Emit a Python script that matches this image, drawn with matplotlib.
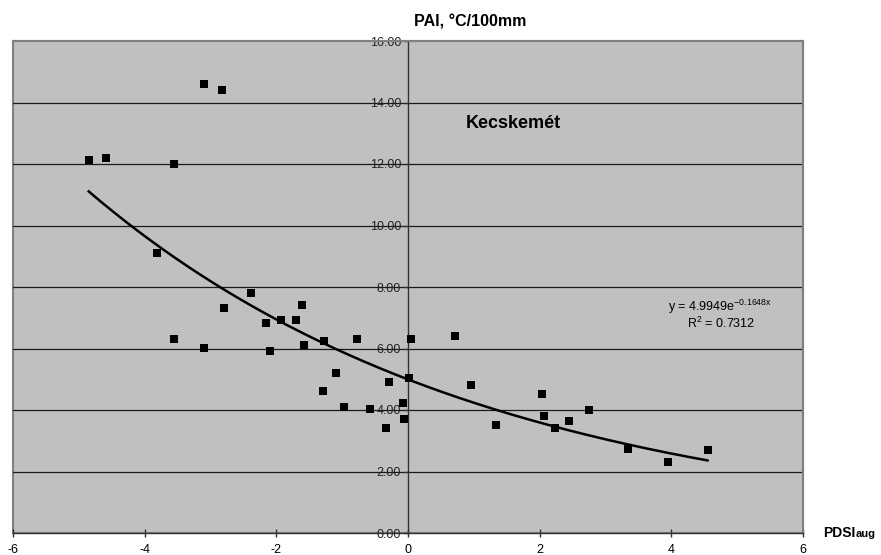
import numpy as np
import matplotlib
matplotlib.use('Agg')
import matplotlib.pyplot as plt
from matplotlib.patches import Rectangle

plt.rcParams['font.family'] = 'Liberation Sans'
plt.rcParams['mathtext.fontset'] = 'custom'
plt.rcParams['mathtext.rm'] = 'Liberation Sans'
plt.rcParams['mathtext.it'] = 'Liberation Sans:italic'
plt.rcParams['mathtext.bf'] = 'Liberation Sans:bold'

# PDSI (augusztus) es PAI ertekek, Kecskemet
pdsi = [-4.85, -4.59, -3.56, -3.10, -2.82, -3.82, -3.56, -3.10, -2.80, -2.38,
        -2.15, -2.10, -1.93, -1.70, -1.61, -1.58, -1.28, -1.29, -1.09, -0.97,
        -0.77, -0.58, -0.33, -0.29, -0.07, -0.06, 0.01, 0.05, 0.72, 0.95,
        1.34, 2.04, 2.06, 2.23, 2.45, 2.75, 3.34, 3.95, 4.55]
pai = [12.12, 12.21, 12.00, 14.60, 14.41, 9.12, 6.31, 6.01, 7.31, 7.81,
       6.82, 5.91, 6.92, 6.92, 7.41, 6.12, 6.25, 4.62, 5.20, 4.11,
       6.32, 4.02, 3.41, 4.91, 4.22, 3.71, 5.05, 6.32, 6.42, 4.81,
       3.51, 4.51, 3.81, 3.41, 3.64, 4.01, 2.72, 2.32, 2.70]

# exponencialis trend: y = a * e^(b*x)
trend_a = 4.9949
trend_b = -0.1648
r2 = 0.7312

x_ticks = [-6, -4, -2, 0, 2, 4, 6]
y_ticks = [0, 2, 4, 6, 8, 10, 12, 14, 16]

fig = plt.figure(figsize=(8.81, 5.55), dpi=100)
ax = fig.add_axes([13 / 881, 22 / 555, 790 / 881, 492 / 555])
ax.set_facecolor('#C0C0C0')

ax.set_xlim(-6, 6)
ax.set_ylim(0, 16)

for v in y_ticks[1:-1]:
    ax.axhline(v, color='#1a1a1a', lw=0.9, zorder=1)

xs = np.linspace(min(pdsi), max(pdsi), 200)
ax.plot(xs, trend_a * np.exp(trend_b * xs), color='black', lw=1.8, zorder=3)
ax.scatter(pdsi, pai, marker='s', s=30, color='black', zorder=4, linewidths=0)

# tengelyek a 0-nal
ax.spines['left'].set_position(('data', 0))
ax.spines['left'].set_color('#333333')
ax.spines['left'].set_linewidth(1.0)
ax.spines['bottom'].set_color('#333333')
ax.spines['bottom'].set_linewidth(1.0)
ax.spines['top'].set_color('#808080')
ax.spines['top'].set_linewidth(1.5)
ax.spines['right'].set_color('#808080')
ax.spines['right'].set_linewidth(1.5)
ax.add_patch(Rectangle((0, 0), 1, 1, transform=ax.transAxes, fill=False,
                       ec='#808080', lw=1.5, zorder=0.5, clip_on=False))

ax.set_xticks(x_ticks)
ax.set_xticklabels([str(t) for t in x_ticks])
ax.set_yticks(y_ticks)
ax.set_yticklabels(['%.2f' % t for t in y_ticks])
ax.tick_params(axis='x', direction='inout', length=6, width=1, color='#333333',
               labelsize=9, pad=5)
ax.tick_params(axis='y', direction='out', length=3, width=1, color='#333333',
               labelsize=9, pad=2, labelcolor='#222222')

ax.text(0.87, 13.33, 'Kecskemét', fontsize=13, fontweight='bold',
        ha='left', va='center')
ax.text(4.74, 7.35, r'y = 4.9949e$^{\mathrm{-0.1648x}}$', fontsize=9,
        ha='center', va='center')
ax.text(4.75, 6.83, r'R$^{\mathrm{2}}$ = 0.7312', fontsize=9,
        ha='center', va='center')

fig.text(414 / 881, 1 - 22 / 555, 'PAI, °C/100mm', fontsize=11.5,
         fontweight='bold', ha='left', va='center')
fig.text(823 / 881, 1 - 537 / 555, 'PDSI', fontsize=10, fontweight='bold',
         ha='left', va='baseline')
fig.text(856 / 881, 1 - 537 / 555, 'aug', fontsize=8, fontweight='bold',
         ha='left', va='baseline')

fig.savefig('out.png', dpi=100)
